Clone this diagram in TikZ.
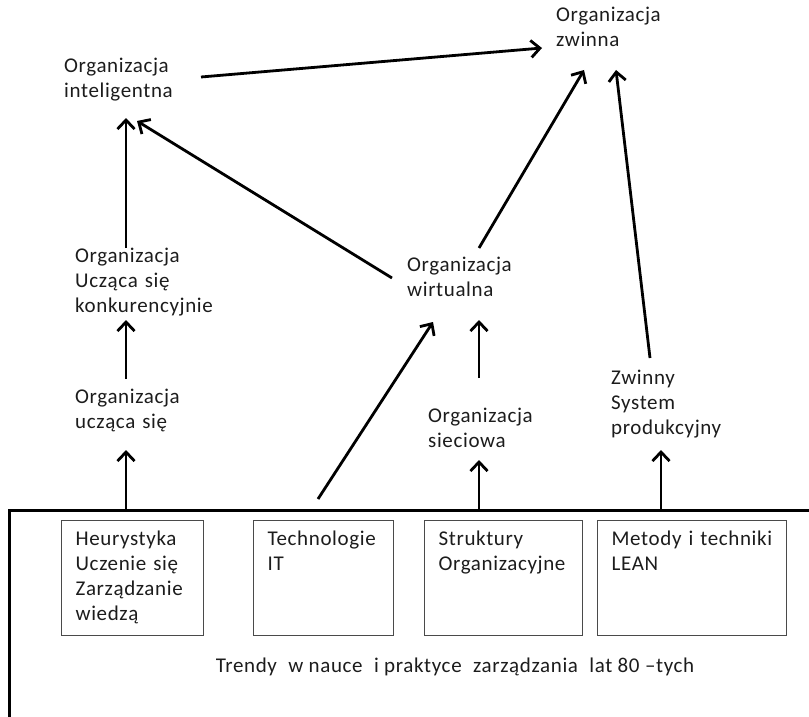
\documentclass[tikz,border=0pt]{standalone}
\usepackage{fontspec}
\setmainfont{Carlito}[LetterSpace=3]
\usetikzlibrary{arrows.meta}

\definecolor{inkgray}{HTML}{1C1C1C}
\definecolor{boxgray}{HTML}{4A4A4A}

\begin{document}
\begin{tikzpicture}[
x=1pt, y=-1pt,
every node/.style={font=\fontsize{21}{25}\selectfont, text=inkgray},
org/.style={anchor=north west, inner sep=0pt, text width=160pt, align=left, text height=13pt},
trend/.style={draw=boxgray, line width=1.3pt, anchor=north west, inner xsep=14pt, inner ysep=12pt, align=left, text height=13pt, text depth=78pt},
trendframe/.style={draw=black, line width=2.8pt, anchor=north west, minimum width=840pt, minimum height=240pt, inner sep=0pt},
link/.style={-{Straight Barb[length=9pt,width=17pt]}, line width=2.8pt},]
\useasboundingbox (0,0) rectangle (809,717);

\node[trendframe] (trends) at (8,509) {};
\node[anchor=base] (trendtext) at (455,672) {Trendy\hspace{6pt} w nauce\hspace{6pt} i praktyce\hspace{6pt} zarządzania\hspace{6pt} lat 80 --tych};

\node[trend, text width=114pt] (heur) at (61,520) {Heurystyka\\Uczenie się\\Zarządzanie\\wiedzą};
\node[trend, text width=112pt] (tech) at (253,520) {Technologie\\IT};
\node[trend, text width=130pt] (struct) at (424,520) {Struktury\\Organizacyjne};
\node[trend, text width=161pt] (lean) at (597,520) {Metody i techniki\\LEAN};

\node[org] (zwinna) at (556,8.5) {Organizacja\\zwinna};
\node[org] (intel) at (64,59.5) {Organizacja\\inteligentna};
\node[org] (konkur) at (75,249.5) {Organizacja\\Ucząca się\\konkurencyjnie};
\node[org] (uczaca) at (75,390.5) {Organizacja\\ucząca się};
\node[org] (wirt) at (407,258.5) {Organizacja\\wirtualna};
\node[org] (siec) at (428,409.5) {Organizacja\\sieciowa};
\node[org] (zsp) at (611,371.5) {Zwinny\\System\\produkcyjny};

% arrows
\draw[link] ([shift={(137,17.5)}]intel.north west) -- ([shift={(-14,39.5)}]zwinna.north west);
\draw[link] ([shift={(51,-1.5)}]konkur.north west) -- ([shift={(62,58.5)}]intel.north west);
\draw[link] ([shift={(-15,19.5)}]wirt.north west) -- ([shift={(73,61.5)}]intel.north west);
\draw[link] ([shift={(51,-11.5)}]uczaca.north west) -- ([shift={(51,70.5)}]konkur.north west);
\draw[link] ([shift={(65,-11)}]heur.north west) -- ([shift={(51,59.5)}]uczaca.north west);
\draw[link] ([shift={(65,-21)}]tech.north west) -- ([shift={(26,63.5)}]wirt.north west);
\draw[link] ([shift={(51,-31.5)}]siec.north west) -- ([shift={(72,61.5)}]wirt.north west);
\draw[link] ([shift={(55,-11)}]struct.north west) -- ([shift={(51,50.5)}]siec.north west);
\draw[link] ([shift={(72,-10.5)}]wirt.north west) -- ([shift={(28,61.5)}]zwinna.north west);
\draw[link] ([shift={(39,-13.5)}]zsp.north west) -- ([shift={(60,61.5)}]zwinna.north west);
\draw[link] ([shift={(64,-11)}]lean.north west) -- ([shift={(50,78.5)}]zsp.north west);

\end{tikzpicture}
\end{document}
